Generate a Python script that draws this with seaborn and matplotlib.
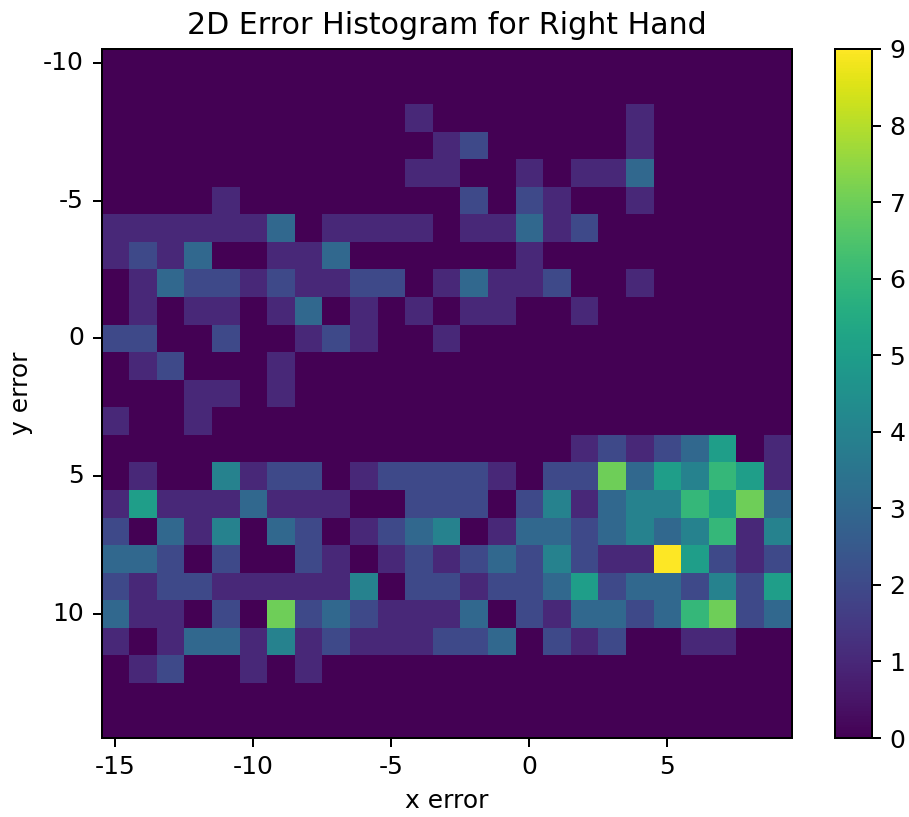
import pandas as pd
import seaborn as sns
import matplotlib
matplotlib.use("Agg")
import matplotlib.pyplot as plt

# bin centres of the histogram
x_bins = list(range(-15, 10))
y_bins = list(range(-10, 15))

# counts per y bin, left to right
row_m10 = [0] * 25
row_m9 = [0] * 25
row_m8 = [0,0,0,0,0,0,0,0,0,0,0,1,0,0,0,0,0,0,0,1,0,0,0,0,0]
row_m7 = [0,0,0,0,0,0,0,0,0,0,0,0,1,2,0,0,0,0,0,1,0,0,0,0,0]
row_m6 = [0,0,0,0,0,0,0,0,0,0,0,1,1,0,0,1,0,1,1,3,0,0,0,0,0]
row_m5 = [0,0,0,0,1,0,0,0,0,0,0,0,0,2,0,2,1,0,0,1,0,0,0,0,0]
row_m4 = [1,1,1,1,1,1,3,0,1,1,1,1,0,1,1,3,1,2,0,0,0,0,0,0,0]
row_m3 = [1,2,1,3,0,0,1,1,3,0,0,0,0,0,0,1,0,0,0,0,0,0,0,0,0]
row_m2 = [0,1,3,2,2,1,2,1,1,2,2,0,1,3,1,1,2,0,0,1,0,0,0,0,0]
row_m1 = [0,1,0,1,1,0,1,3,0,1,0,1,0,1,1,0,0,1,0,0,0,0,0,0,0]
row_0 = [2,2,0,0,2,0,0,1,2,1,0,0,1,0,0,0,0,0,0,0,0,0,0,0,0]
row_1 = [0,1,2,0,0,0,1,0,0,0,0,0,0,0,0,0,0,0,0,0,0,0,0,0,0]
row_2 = [0,0,0,1,1,0,1,0,0,0,0,0,0,0,0,0,0,0,0,0,0,0,0,0,0]
row_3 = [1,0,0,1,0,0,0,0,0,0,0,0,0,0,0,0,0,0,0,0,0,0,0,0,0]
row_4 = [0,0,0,0,0,0,0,0,0,0,0,0,0,0,0,0,0,1,2,1,2,3,5,0,1]
row_5 = [0,1,0,0,4,1,2,2,0,1,2,2,2,2,1,0,2,2,7,3,5,4,6,5,1]
row_6 = [1,5,1,1,1,3,1,1,1,0,0,2,2,2,0,2,4,1,3,4,4,6,5,7,3]
row_7 = [2,0,3,1,4,0,3,2,0,1,2,3,4,0,1,3,3,2,3,4,3,4,6,1,4]
row_8 = [3,3,2,0,2,0,0,2,1,0,1,2,1,2,3,2,4,2,1,1,9,5,2,1,2]
row_9 = [2,1,2,2,1,1,1,1,1,4,0,2,2,1,2,2,3,5,2,3,3,2,4,2,5]
row_10 = [3,1,1,0,2,0,7,2,3,2,1,1,1,3,0,2,1,3,3,2,3,6,7,2,3]
row_11 = [1,0,1,3,3,1,4,1,2,1,1,1,2,2,3,0,2,1,2,0,0,1,1,0,0]
row_12 = [0,1,2,0,0,1,0,1,0,0,0,0,0,0,0,0,0,0,0,0,0,0,0,0,0]
row_13 = [0] * 25
row_14 = [0] * 25

counts = pd.DataFrame(
    [row_m10, row_m9, row_m8, row_m7, row_m6, row_m5, row_m4, row_m3, row_m2,
     row_m1, row_0, row_1, row_2, row_3, row_4, row_5, row_6, row_7, row_8,
     row_9, row_10, row_11, row_12, row_13, row_14],
    index=y_bins, columns=x_bins)

fig = plt.figure(figsize=(909 / 180, 817 / 180), dpi=180)
ax = fig.add_axes([101.5 / 909, 1 - 738 / 817, 690 / 909, 689 / 817])
cax = fig.add_axes([835 / 909, 1 - 738 / 817, 37 / 909, 689 / 817])

# Heatmap with a tick every 5 bins
sns.heatmap(counts, cmap="viridis", vmin=0, vmax=9, ax=ax, cbar_ax=cax,
            xticklabels=5, yticklabels=5, cbar_kws={"ticks": range(10)})
ax.tick_params(axis="y", labelrotation=0)
ax.tick_params(axis="x", labelrotation=0)
for spine in ax.spines.values():
    spine.set_visible(True)
ax.collections[0].colorbar.outline.set_linewidth(0.8)

ax.set_title("2D Error Histogram for Right Hand")
ax.set_xlabel("x error")
ax.set_ylabel("y error")

fig.savefig("out.png", dpi=180)
